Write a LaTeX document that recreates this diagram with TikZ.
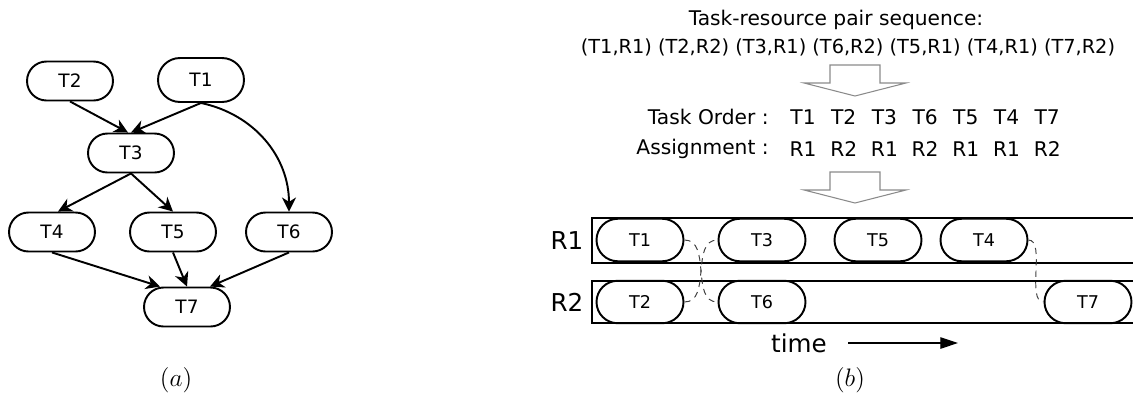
\documentclass[tikz,border=0pt]{standalone}
\usepackage{fontspec}
\setmainfont{DejaVu Sans}
\usetikzlibrary{shapes.misc,arrows.meta,positioning}
\definecolor{gris}{HTML}{8A8A8A}
\tikzset{tache/.style={
    rounded rectangle,
    draw,
    line width=1.1pt,
    minimum width=1.72cm,
    minimum height=0.78cm,
    inner sep=0pt,
    font=\fontsize{10.5}{12}\selectfont}}
\tikzset{creneau/.style={
    tache,
    minimum width=1.74cm,
    minimum height=0.85cm,
    font=\fontsize{10}{12}\selectfont}}
\tikzset{fleche/.style={
    -{Stealth[length=8pt,width=8pt,inset=2.5pt]},
    line width=1.1pt}}
\tikzset{pointille/.style={
    draw=black!75,
    line width=0.55pt,
    dash pattern=on 3.5pt off 3pt}}
\tikzset{bloc/.style={
    draw=gris,
    line width=0.6pt}}
\tikzset{texte/.style={
    inner sep=0pt,
    font=\fontsize{11.5}{13}\selectfont}}

\begin{document}
\begin{tikzpicture}[x=0.02cm, y=-0.02cm]
  \clip (0,0) rectangle (1133,396);

  % (a) task graph
  \node[tache] (t2) at (70,81) {T2};
  \node[tache, minimum height=0.88cm] (t1) at (201,80) {T1};
  \node[tache] (t3) at (131,153) {T3};
  \node[tache] (t4) at (52,232) {T4};
  \node[tache] (t5) at (173,232) {T5};
  \node[tache] (t6) at (289,232) {T6};
  \node[tache] (t7) at (187,307) {T7};

  \draw[fleche] (t2.south) -- ([xshift=-0.06cm]t3.north);
  \draw[fleche] (t1.south) -- (t3.north);
  \draw[fleche] (t1.south) to[out=-12,in=90] (t6.north);
  \draw[fleche] (t3.south) -- ([xshift=0.12cm]t4.north);
  \draw[fleche] (t3.south) -- (t5.north);
  \draw[fleche] (t4.south) -- ([xshift=-0.54cm]t7.north);
  \draw[fleche] (t5.south) -- (t7.north);
  \draw[fleche] (t6.south) -- ([xshift=0.46cm]t7.north);

  \node[font=\fontsize{15}{18}\selectfont] (la) at (176,380) {$(a)$};

  % (b) encoding and schedule
  \node[texte] (titre) at (836,20) {Task-resource pair sequence:};
  \node[texte, font=\fontsize{11}{13}\selectfont] (sequence) at (848,47)
    {(T1,R1) (T2,R2) (T3,R1) (T6,R2) (T5,R1) (T4,R1) (T7,R2)};

  \coordinate (f1) at (855,65);
  \coordinate (f2) at (855,172);
  \foreach \f in {f1,f2}
    \draw[bloc] (\f) ++(-25,0) -- ++(50,0) -- ++(0,18) -- ++(26,0)
      -- ++(-51,13) -- ++(-51,-13) -- ++(26,0) -- cycle;

  \node[texte, anchor=east] (ordre) at (769,117) {Task Order :};
  \node[texte, anchor=east] (affect) at (769,149) {Assignment :};
  \foreach \t/\r [count=\i] in {T1/R1,T2/R2,T3/R1,T6/R2,T5/R1,T4/R1,T7/R2} {
    \node[texte] (ordre\i) at ({803+40.7*(\i-1)},117) {\t};
    \node[texte] (affect\i) at ({803+40.7*(\i-1)},149) {\r};
  }

  \node[font=\fontsize{14}{16}\selectfont] (r1) at (567,241) {R1};
  \node[font=\fontsize{14}{16}\selectfont] (r2) at (567,302) {R2};
  \draw[line width=0.6pt] (592,218) rectangle (1138,263);
  \draw[line width=0.6pt] (592,281) rectangle (1138,323);

  \node[creneau] (g1) at (640,240) {T1};
  \node[creneau] (g3) at (762,240) {T3};
  \node[creneau] (g5) at (878,240) {T5};
  \node[creneau] (g4) at (984,240) {T4};
  \node[creneau] (g2) at (640,302) {T2};
  \node[creneau] (g6) at (762,302) {T6};
  \node[creneau] (g7) at (1088,302) {T7};

  \draw[pointille] (g1.east) to[out=0,in=180] (g6.west);
  \draw[pointille] (g2.east) to[out=0,in=180] (g3.west);
  \draw[pointille] (g4.east) to[out=0,in=180,looseness=0.7] (g7.west);

  \node[font=\fontsize{14}{16}\selectfont] (temps) at (799,343) {time};
  \coordinate (tdebut) at (848,343);
  \coordinate (tfin) at (958,343);
  \draw[line width=0.6pt, -{Triangle[length=10pt,width=6.5pt]}] (tdebut) -- (tfin);

  \node[font=\fontsize{15}{18}\selectfont] (lb) at (850,380) {$(b)$};
\end{tikzpicture}
\end{document}
